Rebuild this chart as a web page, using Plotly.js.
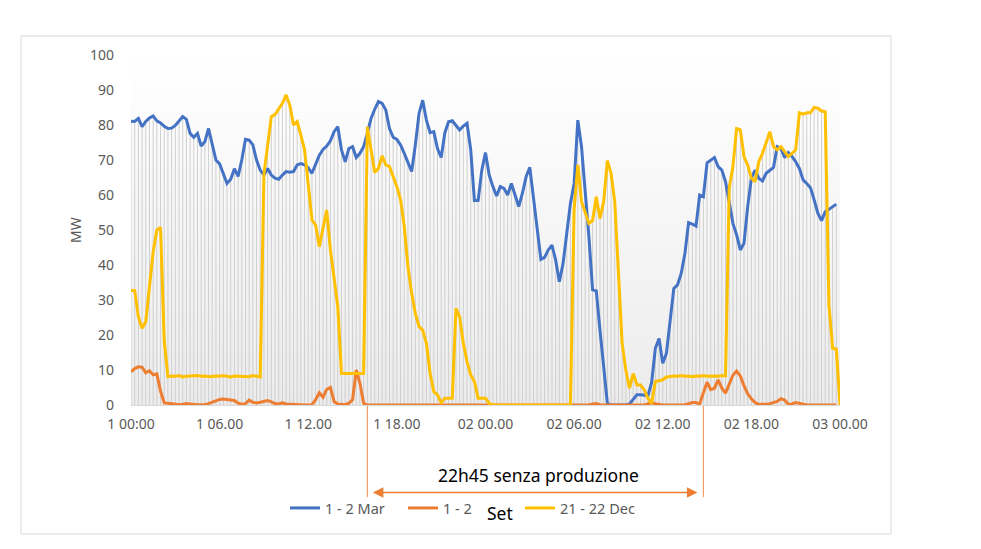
<!DOCTYPE html>
<html>
<head>
<meta charset="utf-8">
<script src="https://cdn.plot.ly/plotly-3.0.1.min.js"></script>
<style>
  html, body { margin: 0; padding: 0; background: #fff; }
  #chart { width: 981px; height: 549px; }
</style>
</head>
<body>
<div id="chart"></div>
<script>
// 15-minute steps, index 0 = "1 00:00" ... 192 = "03 00.00"
const tickPos = [0, 24, 48, 72, 96, 120, 144, 168, 192];
const tickLabels = ["1 00:00", "1 06.00", "1 12.00", "1 18.00", "02 00.00", "02 06.00", "02 12.00", "02 18.00", "03 00.00"];

const seriesNames = ["1 - 2 Mar", "1 - 2", "21 - 22 Dec"];
const colors = ["#4472C4", "#ED7D31", "#FFC000"];

const mar = [
  81.1, 81, 81.9, 79.5, 81, 82, 82.6, 81.2, 80.6, 79.6,
  79, 79.1, 79.9, 81.2, 82.4, 81.6, 77.6, 76.5, 77.6, 74,
  75.2, 79, 74.8, 70, 68.9, 66.2, 63.3, 64.5, 67.5, 65.3,
  70, 75.9, 75.7, 74.3, 70, 67.1, 65.7, 67.6, 65.7, 64.8,
  64.5, 65.7, 66.7, 66.5, 66.7, 68.6, 69, 68.6, 67.8, 66.2,
  68.6, 71.4, 73, 74, 75.5, 78.1, 79.5, 72.9, 69.5, 73.3,
  73.8, 70.7, 71.9, 73.8, 77.6, 81.9, 84.5, 86.7, 86.2, 84.3,
  79, 76.5, 75.9, 74.3, 71.9, 69, 66.7, 74.3, 83.3, 87.1,
  81.4, 77.8, 78.1, 73.3, 70.7, 77.8, 80.9, 81.2, 80, 78.6,
  79.7, 80.5, 72.9, 58.4, 58.4, 67.1, 72.1, 65.7, 62.4, 59.7,
  62.4, 61.9, 60, 63.3, 60, 56.7, 60.5, 65.2, 67.9, 59.6,
  50, 41.6, 42.2, 44.3, 45.7, 41.4, 35.2, 40.4, 49, 57.6,
  63.3, 81.4, 73.8, 61.4, 48.1, 32.9, 32.6, 21.4, 10, 0.5,
  0, 0, 0, 0, 0, 0.3, 1.7, 2.9, 2.9, 2.9,
  2.7, 6.5, 16.2, 19, 11.9, 14.8, 24.3, 33.3, 34.3, 37.6,
  43.3, 52.1, 51.7, 51.1, 60, 59.5, 69.2, 70, 70.7, 68.1,
  67.1, 63.8, 57.6, 51.9, 48.6, 44.3, 46.2, 56.7, 64.8, 67.1,
  64.8, 64, 66.2, 67, 67.9, 73.8, 73.3, 70.7, 72.1, 71,
  69.5, 67.6, 64.3, 63.3, 62.1, 58.6, 54.8, 52.7, 55.2, 55.9,
  56.7, 57.4
];

const set = [
  9.5, 10.4, 10.9, 10.8, 9.2, 9.8, 8.6, 8.9, 4, 0.6,
  0.5, 0.3, 0.2, 0.1, 0.2, 0.4, 0.3, 0.1, 0.1, 0.1,
  0.1, 0.4, 0.8, 1.1, 1.6, 1.7, 1.5, 1.4, 1.3, 0.5,
  0.2, 0.4, 1.4, 0.8, 0.6, 0.8, 1.1, 1.3, 0.9, 0.4,
  0.3, 0.6, 0.3, 0.2, 0.1, 0, 0, 0, 0, 0.1,
  1.5, 3.5, 2.2, 4.5, 5, 1, 0.3, 0.1, 0.1, 0.5,
  1.5, 10, 6.2, 0.5, 0, 0, 0, 0, 0, 0,
  0, 0, 0, 0, 0, 0, 0, 0, 0, 0,
  0, 0, 0, 0, 0, 0, 0, 0, 0, 0,
  0, 0, 0, 0, 0, 0, 0, 0, 0, 0,
  0, 0, 0, 0, 0, 0, 0, 0, 0, 0,
  0, 0, 0, 0, 0, 0, 0, 0, 0, 0,
  0, 0, 0, 0, 0, 0.3, 0.4, 0.1, 0, 0,
  0, 0, 0, 0, 0, 0, 0, 0, 0, 0,
  0.3, 0.6, 0.4, 0.1, 0, 0, 0, 0, 0, 0,
  0.1, 0.4, 0.7, 0.7, 0.2, 3.5, 6.5, 4.4, 4.8, 7.2,
  4.8, 3.4, 5.8, 8.5, 9.7, 8.3, 5.5, 3.2, 1.8, 0.7,
  0.2, 0.1, 0.2, 0.4, 0.6, 1, 1.8, 1.4, 0.2, 0.3,
  0.7, 0.5, 0.1, 0, 0, 0, 0, 0, 0, 0,
  0, 0
];

const dec = [
  32.7, 32.7, 25.2, 21.9, 23.8, 34.3, 43.8, 50, 50.7, 18.3,
  8.1, 8.3, 8.2, 8.4, 8, 8.2, 8.3, 8.2, 8.4, 8.2,
  8.3, 8.1, 8.3, 8.3, 8.2, 8.4, 8.2, 8, 8.3, 8.3,
  8.2, 8.3, 8.1, 8.4, 8.2, 8, 66, 73.8, 82.4, 83,
  84.8, 86.2, 88.6, 85.7, 80, 81, 77.1, 72.9, 63, 52.9,
  51.4, 45.2, 50.5, 55.7, 44.3, 35.7, 28.1, 9, 9, 9,
  9, 9, 9, 9, 79.5, 72.9, 66.4, 67.6, 71.2, 68.6,
  68.1, 65.2, 62.4, 58.6, 51, 39.5, 31.9, 26.2, 22.4, 21.4,
  17.6, 9, 3.8, 2.9, 0.7, 1.9, 1.9, 1.9, 27.6, 25.2,
  17.6, 12.4, 8.6, 6.7, 1.9, 1.9, 1.9, 0.5, 0, 0,
  0, 0, 0, 0, 0, 0, 0, 0, 0, 0,
  0, 0, 0, 0, 0, 0, 0, 0, 0, 0,
  56, 68.6, 58.1, 54.8, 51.9, 52.7, 59.5, 53.3, 58.1, 69.8,
  66.2, 58.1, 36.7, 17.6, 10, 4.8, 9, 5.7, 5.7, 4.3,
  1.9, 0.5, 6.7, 7, 7.2, 8, 8.2, 8.3, 8.2, 8.4,
  8.2, 8.3, 8.1, 8.3, 8.2, 8.4, 8.2, 8.3, 8.3, 8.2,
  8.4, 8.3, 62, 68.1, 79, 78.6, 71, 68.6, 64.8, 63.8,
  69.5, 71.9, 74.8, 78.1, 73.8, 72.9, 73.8, 72.4, 71, 71.9,
  72.9, 83.5, 83.1, 83.5, 83.5, 85, 84.8, 84, 83.8, 28.6,
  16.2, 16, 0
];

// start / end of the zero-production stretch (index of the 15-min step)
const gapStart = 64;
const gapEnd = 155;

const allSeries = [mar, set, dec];

// pixel helpers for the things that sit outside the plot area
const W = 981, H = 549;
const margin = { l: 131, r: 141, t: 55, b: 144 };
const plotW = W - margin.l - margin.r;
const plotH = H - margin.t - margin.b;
const px = (x) => (x - margin.l) / plotW;
const py = (y) => (H - margin.b - y) / plotH;

// drop lines: one grey stroke per step, from 0 up to the highest series
const dropX = [], dropY = [];
const n = Math.max(...allSeries.map((s) => s.length));
for (let i = 0; i < n; i++) {
  const vals = allSeries.map((s) => s[i]).filter((v) => v !== undefined);
  dropX.push(i, i, null);
  dropY.push(0, Math.max(...vals), null);
}

const traces = [{
  x: dropX, y: dropY,
  type: "scatter", mode: "lines",
  line: { color: "#CFCFCF", width: 1 },
  hoverinfo: "skip", showlegend: false,
}];

const legendIds = ["legend", "legend2", "legend3"];
allSeries.forEach((s, k) => {
  traces.push({
    x: s.map((_, i) => i),
    y: s,
    name: seriesNames[k],
    legend: legendIds[k],
    type: "scatter", mode: "lines",
    line: { color: colors[k], width: 3 },
  });
});

const bgSvg = "<svg xmlns='http://www.w3.org/2000/svg' width='10' height='100' preserveAspectRatio='none'>" +
  "<defs><linearGradient id='g' x1='0' y1='0' x2='0' y2='1'>" +
  "<stop offset='0' stop-color='#ffffff'/><stop offset='1' stop-color='#ececec'/>" +
  "</linearGradient></defs><rect width='10' height='100' fill='url(#g)'/></svg>";

const grey = "#595959";
const font = "'Noto Sans', 'Open Sans', sans-serif";

// one small legend per series so each entry can sit where the original puts it
const legendBox = (left) => ({
  orientation: "h",
  x: px(left), y: py(508), xanchor: "left", yanchor: "middle",
  font: { size: 14.5, color: grey },
  bgcolor: "rgba(0,0,0,0)",
});

var layout = {
  width: W, height: H,
  margin: margin,
  paper_bgcolor: "#fff",
  plot_bgcolor: "rgba(0,0,0,0)",
  font: { family: font, color: grey, size: 14 },
  showlegend: true,
  legend: legendBox(285),
  legend2: legendBox(403),
  legend3: legendBox(520),
  xaxis: {
    range: [0, 192],
    tickvals: tickPos, ticktext: tickLabels,
    showgrid: false, zeroline: false,
    showline: true, linecolor: "#D9D9D9", linewidth: 1,
    ticks: "", ticklabelstandoff: 6,
    tickfont: { size: 14, color: grey },
    fixedrange: true,
  },
  yaxis: {
    range: [0, 100], dtick: 10,
    showgrid: false, zeroline: false, showline: false,
    ticks: "", ticklabelstandoff: 16,
    tickfont: { size: 14, color: grey },
    fixedrange: true,
  },
  images: [{
    source: "data:image/svg+xml;charset=utf-8," + encodeURIComponent(bgSvg),
    xref: "paper", yref: "paper", x: 0, y: 1, sizex: 1, sizey: 1,
    sizing: "stretch", layer: "below",
  }],
  shapes: [
    { type: "rect", xref: "paper", yref: "paper",
      x0: px(21), x1: px(891), y0: py(36), y1: py(534),
      line: { color: "#D9D9D9", width: 1 }, layer: "below" },
    { type: "line", xref: "x", yref: "paper",
      x0: gapStart, x1: gapStart, y0: py(406), y1: py(497),
      line: { color: "#F08A4B", width: 1 } },
    { type: "line", xref: "x", yref: "paper",
      x0: gapEnd, x1: gapEnd, y0: py(406), y1: py(497),
      line: { color: "#F08A4B", width: 1 } },
  ],
  annotations: [
    { text: "MW", xref: "paper", yref: "paper", x: px(75), y: py(230),
      xanchor: "center", yanchor: "middle",
      textangle: -90, showarrow: false, font: { size: 14, color: grey } },
    { text: "22h45 senza produzione", xref: "paper", yref: "paper",
      x: px(538), y: py(475), xanchor: "center", yanchor: "middle",
      showarrow: false, font: { size: 17.5, color: "#000" } },
    { text: "Set", xref: "paper", yref: "paper",
      x: px(500), y: py(513), xanchor: "center", yanchor: "middle",
      showarrow: false, font: { size: 17.5, color: "#000" } },
    { text: "", xref: "x", yref: "paper",
      x: gapEnd - 1.6, y: py(492.5),
      axref: "x", ax: gapStart + 1.1, ayref: "pixel", ay: 0,
      showarrow: true, arrowside: "end+start",
      arrowhead: 2, startarrowhead: 2,
      arrowsize: 1.4, startarrowsize: 1.4, arrowwidth: 1.5,
      arrowcolor: "#ED7D31", standoff: 0, startstandoff: 0 },
  ],
};

var config = { responsive: false, displayModeBar: false, staticPlot: true };

Plotly.newPlot("chart", traces, layout, config);
</script>
</body>
</html>
